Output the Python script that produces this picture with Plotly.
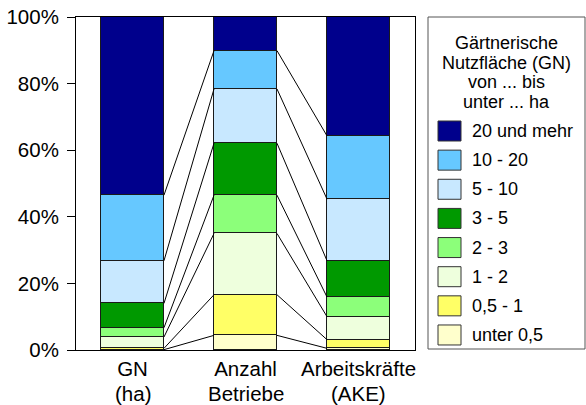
import plotly.graph_objects as go

# ---- data ----
columns_line1 = ["GN", "Anzahl", "Arbeitskräfte"]
columns_line2 = ["(ha)", "Betriebe", "(AKE)"]
classes = ["unter 0,5", "0,5 - 1", "1 - 2", "2 - 3", "3 - 5", "5 - 10", "10 - 20", "20 und mehr"]
gn_share = [0.1, 0.4, 3.4, 2.8, 7.3, 12.8, 19.7, 53.5]
betriebe_share = [4.4, 12.2, 18.4, 11.5, 15.6, 16.3, 11.5, 10.1]
ake_share = [0.5, 2.6, 6.9, 5.9, 10.9, 18.5, 19.0, 35.7]
colors = ["#FFFFCC", "#FFFF66", "#EEFFDD", "#8CFF7A", "#009900", "#C8E8FF", "#66C8FF", "#00008C"]
y_ticks = [0, 20, 40, 60, 80, 100]
y_tick_labels = ["0%", "20%", "40%", "60%", "80%", "100%"]
legend_title_lines = ["Gärtnerische", "Nutzfläche (GN)", "von ... bis", "unter ... ha"]

# ---- layout constants ----
W, H = 586, 405
ML, MR, MT, MB = 76, 171, 17, 55
PW, PH = W - ML - MR, H - MT - MB
BAR_W = 0.557
FONT = "Liberation Sans, Arial, sans-serif"
AX_FS = 20.5
LG_FS = 18

def px(x):
    return (x - ML) / PW

def py(y):
    return (H - MB - y) / PH

series = [gn_share, betriebe_share, ake_share]
xs = list(range(len(columns_line1)))

fig = go.Figure()
for k, name in enumerate(classes):
    fig.add_trace(go.Bar(
        x=xs, y=[s[k] for s in series], name=name, width=BAR_W,
        marker=dict(color=colors[k], line=dict(color="#1a1a1a", width=1)),
        showlegend=False,
    ))

# connecting lines between cumulative boundaries
cums = []
for s in series:
    c, acc = [], 0
    for v in s:
        acc += v
        c.append(acc)
    cums.append(c)
lx, ly = [], []
for j in range(len(series) - 1):
    for k in range(len(classes) - 1):
        lx += [xs[j] + BAR_W / 2, xs[j + 1] - BAR_W / 2, None]
        ly += [cums[j][k], cums[j + 1][k], None]
fig.add_trace(go.Scatter(x=lx, y=ly, mode="lines", line=dict(color="black", width=1),
                         showlegend=False, hoverinfo="skip"))

annotations = []
# second line of category labels
for xi, t in zip(xs, columns_line2):
    annotations.append(dict(xref="x", yref="paper", x=xi, y=py(393), text=t, showarrow=False,
                            xanchor="center", yanchor="middle",
                            font=dict(family=FONT, size=AX_FS, color="black")))

# manual legend
shapes = [dict(type="rect", xref="paper", yref="paper", x0=px(428), x1=px(585), y0=py(349), y1=py(17),
               line=dict(color="#555555", width=1), fillcolor="white", layer="below")]
for i, t in enumerate(legend_title_lines):
    annotations.append(dict(xref="paper", yref="paper", x=px(506.5), y=py(43 + i * 19.6), text=t,
                            showarrow=False, xanchor="center", yanchor="middle",
                            font=dict(family=FONT, size=LG_FS, color="black")))
first_c, step = 131, 29.14
for i, k in enumerate(reversed(range(len(classes)))):
    cy = first_c + i * step
    shapes.append(dict(type="rect", xref="paper", yref="paper", x0=px(438), x1=px(461),
                       y0=py(cy + 10), y1=py(cy - 10), fillcolor=colors[k],
                       line=dict(color="#333333", width=1)))
    annotations.append(dict(xref="paper", yref="paper", x=px(470), y=py(cy), text=classes[k],
                            showarrow=False, xanchor="left", yanchor="middle",
                            font=dict(family=FONT, size=LG_FS, color="black")))

fig.update_layout(
    width=W, height=H, barmode="stack", bargap=0,
    margin=dict(l=ML, r=MR, t=MT, b=MB, pad=0),
    paper_bgcolor="white", plot_bgcolor="white",
    font=dict(family=FONT, size=AX_FS, color="black"),
    shapes=shapes, annotations=annotations,
    xaxis=dict(range=[-0.5, 2.5], tickvals=xs, ticktext=columns_line1, showgrid=False, zeroline=False,
               showline=True, mirror=True, linecolor="black", linewidth=1, ticks="",
               automargin=False, tickfont=dict(family=FONT, size=AX_FS, color="black")),
    yaxis=dict(range=[0, 100], tickvals=y_ticks, ticktext=y_tick_labels, showgrid=False, zeroline=False,
               showline=True, mirror=True, linecolor="black", linewidth=1, ticks="outside",
               ticklen=8, tickcolor="black", automargin=False, ticklabelstandoff=4,
               tickfont=dict(family=FONT, size=AX_FS, color="black")),
)

fig.write_html("out.html", config={"displayModeBar": False},
               post_script="document.body.style.margin='0px';")
